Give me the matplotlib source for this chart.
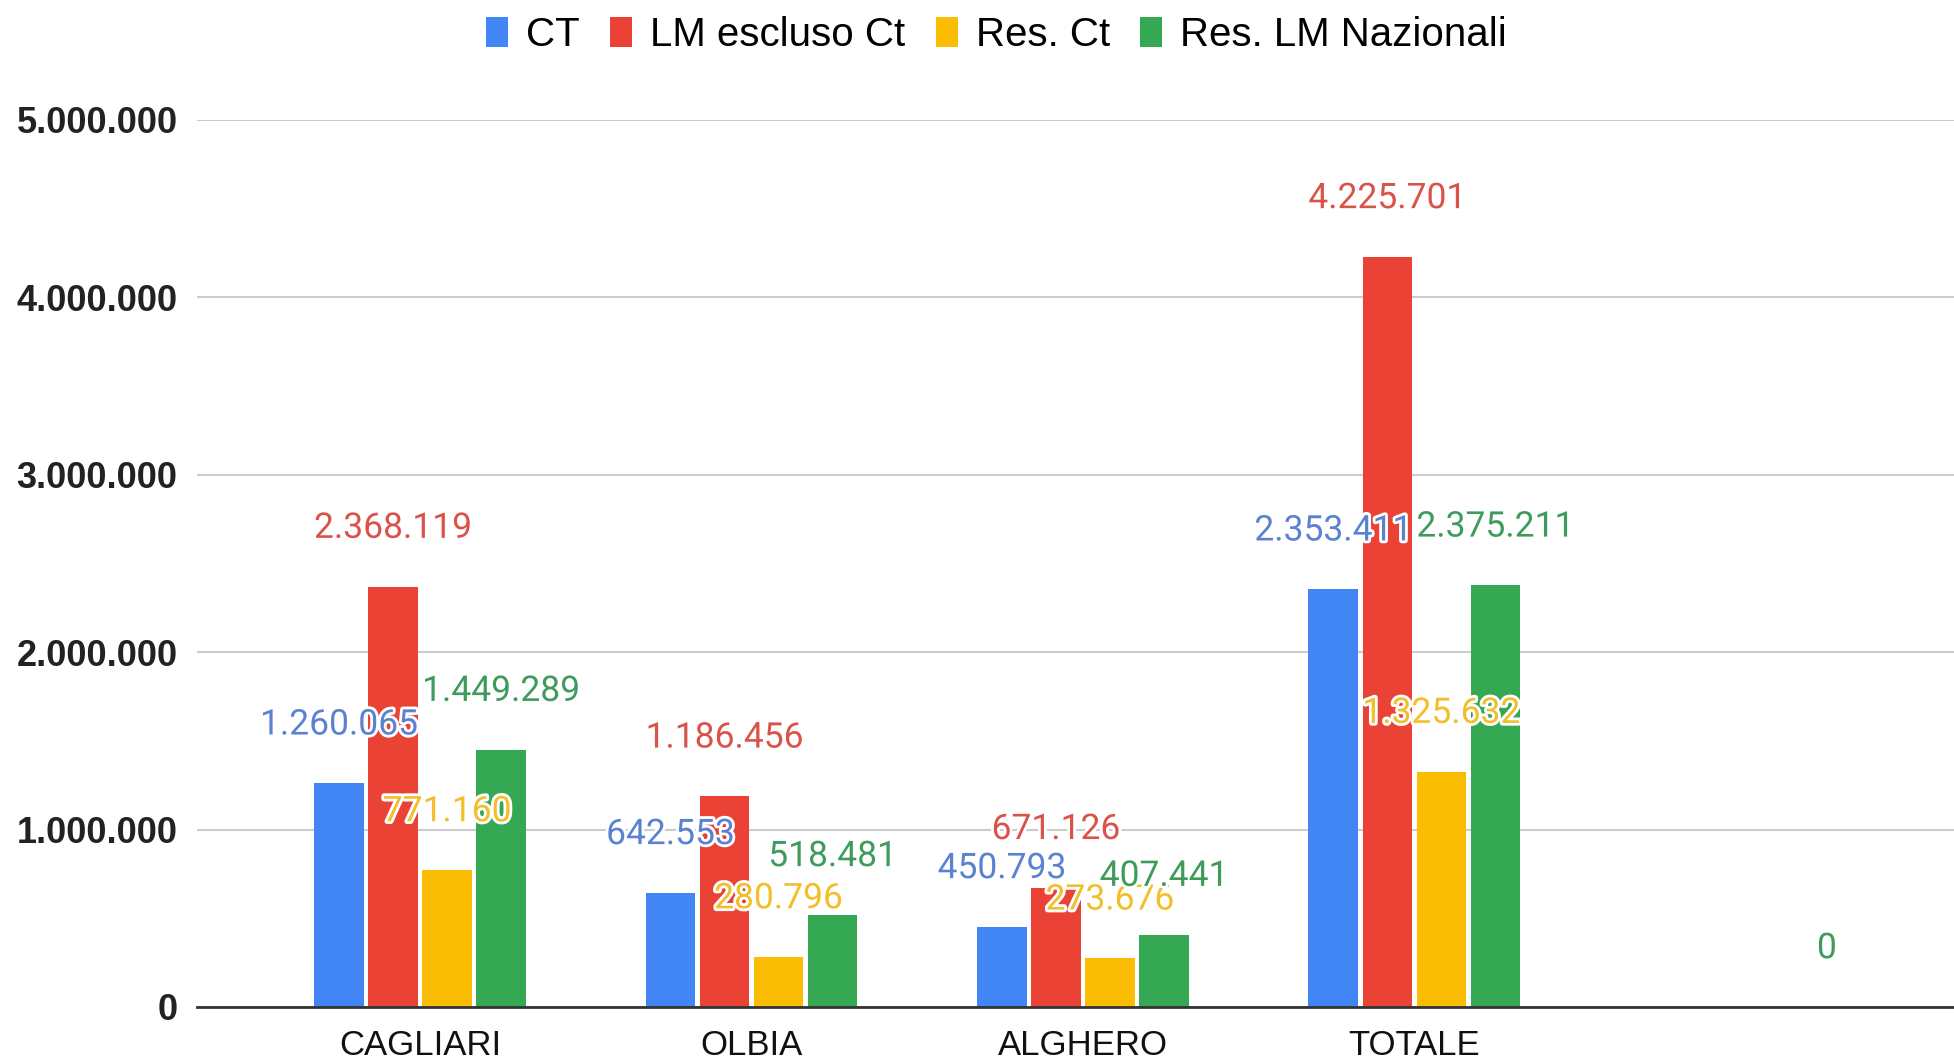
import numpy as np
import matplotlib
matplotlib.use("Agg")
import matplotlib.pyplot as plt
import matplotlib.patheffects as pe
from matplotlib.patches import Patch

categories = ["CAGLIARI", "OLBIA", "ALGHERO", "TOTALE", ""]
series_names = ["CT", "LM escluso Ct", "Res. Ct", "Res. LM Nazionali"]
ct = [1260065, 642553, 450793, 2353411, np.nan]
lm_escluso = [2368119, 1186456, 671126, 4225701, np.nan]
res_ct = [771160, 280796, 273676, 1325632, np.nan]
res_lm_naz = [1449289, 518481, 407441, 2375211, 0]
y_ticks = [0, 1000000, 2000000, 3000000, 4000000, 5000000]

colors = ["#4285F4", "#EA4335", "#FBBC04", "#34A853"]
label_colors = ["#5A82D0", "#D9534A", "#F2BE2A", "#3E9B5C"]

def fmt(v):
    return f"{int(round(v)):,}".replace(",", ".")

fig = plt.figure(figsize=(19.54, 10.62), dpi=100)
ax = fig.add_axes([0.1008, 0.0518, 0.8992, 0.8356])

x = np.arange(len(categories))
step = 0.163
width = 0.150
offsets = [-1.5 * step, -0.5 * step, 0.5 * step, 1.5 * step]
all_series = [ct, lm_escluso, res_ct, res_lm_naz]

for s, vals, off, c, lc in zip(series_names, all_series, offsets, colors, label_colors):
    vals = np.array(vals, dtype=float)
    ax.bar(x + off, vals, width=width, color=c, zorder=3, label=s)
    for xi, v in zip(x, vals):
        if np.isnan(v):
            continue
        ax.annotate(fmt(v), xy=(xi + off, v), xytext=(0, 42), textcoords="offset points",
                    ha="center", va="center", fontsize=25.5, color=lc, family="Roboto",
                    zorder=5,
                    path_effects=[pe.withStroke(linewidth=4, foreground="white")])

ax.set_ylim(0, 5000000)
ax.set_xlim(-0.673, 4.628)
ax.set_yticks(y_ticks)
ax.set_yticklabels([fmt(v) for v in y_ticks], fontsize=26, family="Liberation Sans",
                   fontweight="bold", color="#222222")
ax.set_xticks(x)
ax.set_xticklabels(categories, fontsize=25, family="Liberation Sans", color="#111111")
ax.tick_params(axis="both", length=0)
ax.tick_params(axis="y", pad=14)
ax.tick_params(axis="x", pad=16)
ax.grid(axis="y", color="#cccccc", linewidth=1.5, zorder=0)
for sp in ["top", "right", "left"]:
    ax.spines[sp].set_visible(False)
ax.spines["bottom"].set_color("#333333")
ax.spines["bottom"].set_linewidth(2)
ax.spines["bottom"].set_zorder(4)

handles = [Patch(facecolor=c, edgecolor="none") for c in colors]
fig.legend(handles, series_names, loc="center", bbox_to_anchor=(0.51, 0.967), ncol=4,
           frameon=False, prop={"family": "Liberation Sans", "size": 29},
           handlelength=0.55, handleheight=0.8, handletextpad=0.45, columnspacing=0.75)

fig.savefig("out.png", dpi=100, facecolor="white")
